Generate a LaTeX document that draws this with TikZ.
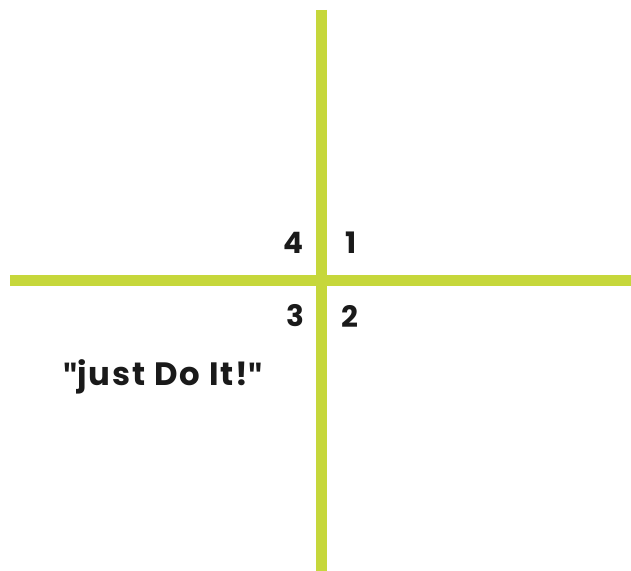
\documentclass[tikz,border=0pt]{standalone}
\usepackage{fontspec}
\setmainfont{Poppins}
\newfontfamily\quotefont{Fira Sans}
\usetikzlibrary{positioning}
\definecolor{axislime}{HTML}{C6D73B}
\definecolor{inkblack}{HTML}{1A1A1A}
\newcommand{\sq}{{\quotefont\bfseries\char34}}

\begin{document}
\begin{tikzpicture}[x=0.025cm, y=-0.025cm,
      axis/.style={line width=10.5*0.025cm, color=axislime},
      quad/.style={font=\fontsize{21}{23}\selectfont\bfseries, text=inkblack, inner sep=0pt},
      motto/.style={font=\fontsize{23}{26}\selectfont\bfseries\addfontfeature{LetterSpace=6}, text=inkblack, inner sep=0pt},
    ]
      \useasboundingbox (0,0) rectangle (631,571);

      \coordinate (top) at (321.5,10);
      \coordinate (bottom) at (321.5,571);
      \coordinate (left) at (10,280.5);
      \coordinate (right) at (631,280.5);

      \draw[axis] (left) -- (right);
      \draw[axis] (top) -- (bottom);

      \node[quad] (q4) at (293,243) {4};
      \node[quad] (q1) at (351,243) {1};
      \node[quad] (q3) at (295,316) {3};
      \node[quad] (q2) at (350,316) {2};

      \node[motto] (justdoit) at (163,377) {\sq just Do It!\sq};
    \end{tikzpicture}
\end{document}
